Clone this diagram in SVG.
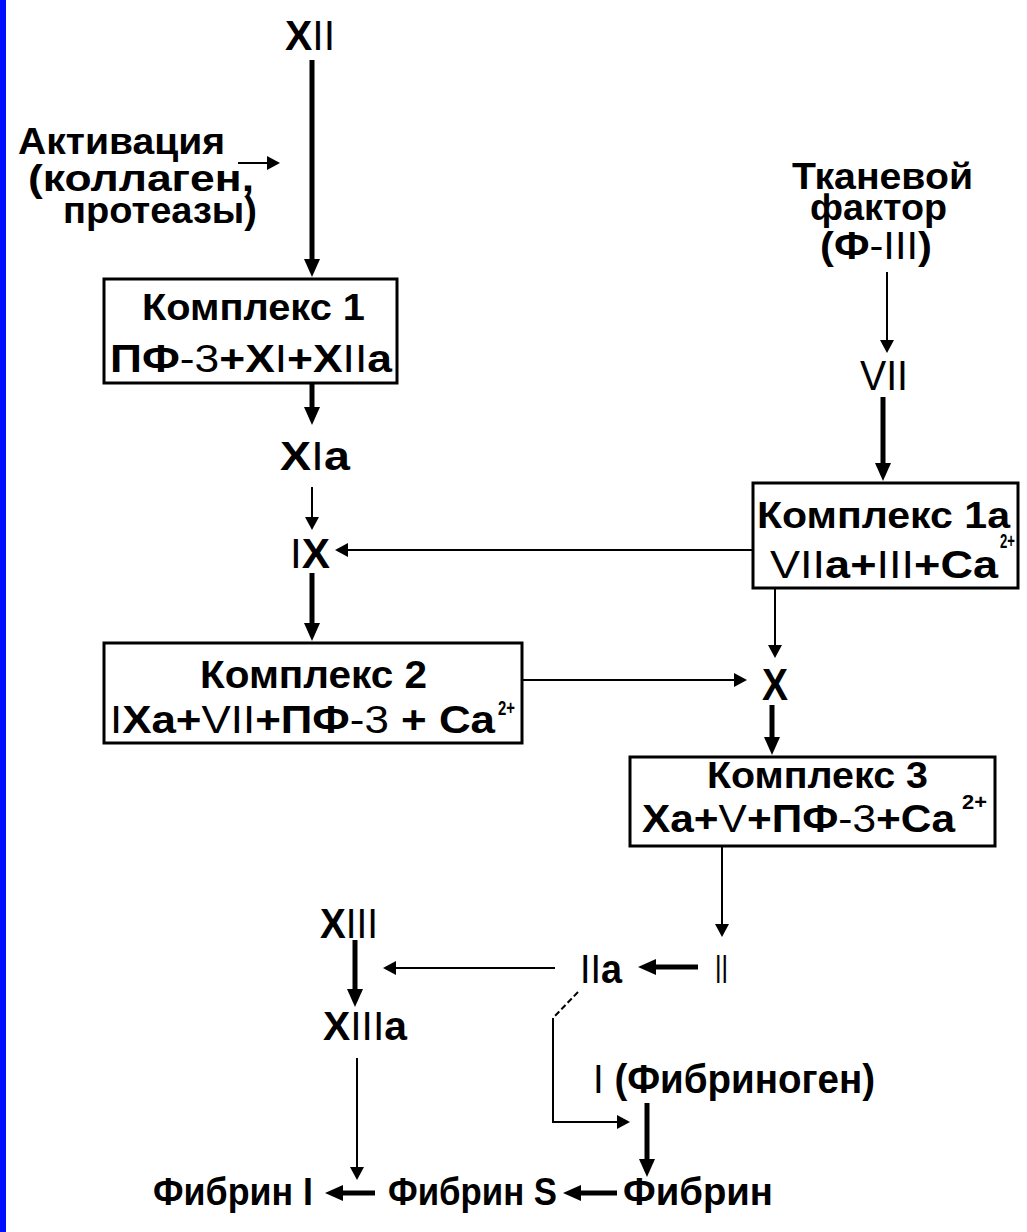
<svg xmlns="http://www.w3.org/2000/svg" width="1027" height="1232" viewBox="0 0 1027 1232">
<style>
.t{font-family:"Liberation Sans",Arial,sans-serif;font-weight:bold;fill:#000}
.n{font-weight:normal}
.box{fill:#fff;stroke:#000;stroke-width:3}
.thick{stroke:#000;stroke-width:5;fill:none;marker-end:url(#ab)}
.thin{stroke:#000;stroke-width:2;fill:none;marker-end:url(#at)}
.dash{stroke:#000;stroke-width:2;fill:none;stroke-dasharray:6 3}
</style>
<defs>
<marker id="ab" markerUnits="userSpaceOnUse" markerWidth="18" markerHeight="16" refX="8" refY="8" orient="auto" viewBox="0 0 18 16"><path d="M0,0 L18,8 L0,16 z" fill="#000"/></marker>
<marker id="at" markerUnits="userSpaceOnUse" markerWidth="13" markerHeight="14" refX="5" refY="7" orient="auto" viewBox="0 0 13 14"><path d="M0,0 L13,7 L0,14 z" fill="#000"/></marker>
</defs>
<rect x="0" y="0" width="1027" height="1232" fill="#fff"/>
<rect x="0" y="0" width="6" height="1232" fill="#0010ff"/>

<g id="connectors">
<line class="thick" x1="312" y1="60" x2="312" y2="267"/>
<line class="thick" x1="312" y1="383" x2="312" y2="415"/>
<line class="thick" x1="312" y1="573" x2="312" y2="631"/>
<line class="thick" x1="883" y1="397" x2="883" y2="471"/>
<line class="thick" x1="772" y1="705" x2="772" y2="745"/>
<line class="thick" x1="698" y1="967" x2="648" y2="967"/>
<line class="thick" x1="355" y1="940" x2="355" y2="997"/>
<line class="thick" x1="647" y1="1103" x2="647" y2="1167"/>
<line class="thick" x1="617" y1="1193" x2="573" y2="1193"/>
<line class="thick" x1="375" y1="1193" x2="335" y2="1193"/>
<line class="thin" x1="238" y1="163" x2="272" y2="163"/>
<line class="thin" x1="312" y1="487" x2="312" y2="522"/>
<line class="thin" x1="753" y1="550" x2="343" y2="550"/>
<line class="thin" x1="887" y1="272" x2="887" y2="345"/>
<line class="thin" x1="775" y1="588" x2="775" y2="650"/>
<line class="thin" x1="522" y1="680" x2="739" y2="680"/>
<line class="thin" x1="722" y1="846" x2="722" y2="929"/>
<line class="thin" x1="555" y1="968" x2="391" y2="968"/>
<line class="dash" x1="578" y1="992" x2="553" y2="1018"/>
<path class="thin" d="M553,1018 V1122 H622"/>
<line class="thin" x1="357" y1="1058" x2="357" y2="1172"/>
</g>

<g id="n-xii"><text class="t" x="285" y="50" font-size="42" textLength="50" lengthAdjust="spacingAndGlyphs">X<tspan class="n">II</tspan></text></g>

<g id="n-activation">
<text class="t" x="18" y="154" font-size="36" textLength="207" lengthAdjust="spacingAndGlyphs">Активация</text>
<text class="t" x="28" y="191" font-size="36" textLength="226" lengthAdjust="spacingAndGlyphs">(коллаген,</text>
<text class="t" x="63" y="223" font-size="36" textLength="194" lengthAdjust="spacingAndGlyphs">протеазы)</text>
</g>

<g id="n-complex1">
<rect class="box" x="104" y="279" width="293" height="104"/>
<text class="t" x="142" y="320" font-size="36" textLength="223" lengthAdjust="spacingAndGlyphs">Комплекс 1</text>
<text class="t" x="110" y="372" font-size="38" textLength="282" lengthAdjust="spacingAndGlyphs">ПФ<tspan class="n">-3</tspan>+X<tspan class="n">I</tspan>+X<tspan class="n">II</tspan>a</text>
</g>

<g id="n-xia"><text class="t" x="280" y="470" font-size="40" textLength="70" lengthAdjust="spacingAndGlyphs">X<tspan class="n">I</tspan>a</text></g>

<g id="n-ix"><text class="t" x="290" y="568" font-size="42" textLength="40" lengthAdjust="spacingAndGlyphs"><tspan class="n">I</tspan>X</text></g>

<g id="n-tissue-factor">
<text class="t" x="792" y="189" font-size="36" textLength="181" lengthAdjust="spacingAndGlyphs">Тканевой</text>
<text class="t" x="810" y="220" font-size="36" textLength="137" lengthAdjust="spacingAndGlyphs">фактор</text>
<text class="t" x="820" y="259" font-size="38" textLength="112" lengthAdjust="spacingAndGlyphs">(Ф<tspan class="n">-III</tspan>)</text>
</g>

<g id="n-vii"><text class="t n" x="860" y="390" font-size="42" textLength="48" lengthAdjust="spacingAndGlyphs">VII</text></g>

<g id="n-complex1a">
<rect class="box" x="753" y="483" width="265" height="105"/>
<text class="t" x="757" y="528" font-size="36" textLength="253" lengthAdjust="spacingAndGlyphs">Комплекс 1a</text>
<text class="t" x="770" y="578" font-size="38" textLength="228" lengthAdjust="spacingAndGlyphs"><tspan class="n">VII</tspan>a+<tspan class="n">III</tspan>+Ca</text>
<text class="t" x="1000" y="548" font-size="20" textLength="15" lengthAdjust="spacingAndGlyphs">2+</text>
</g>

<g id="n-complex2">
<rect class="box" x="104" y="643" width="418" height="100"/>
<text class="t" x="200" y="688" font-size="38" textLength="227" lengthAdjust="spacingAndGlyphs">Комплекс 2</text>
<text class="t" x="110" y="733" font-size="38" textLength="385" lengthAdjust="spacingAndGlyphs"><tspan class="n">I</tspan>Xa+<tspan class="n">VII</tspan>+ПФ<tspan class="n">-3</tspan> + Ca</text>
<text class="t" x="498" y="715" font-size="20" textLength="17" lengthAdjust="spacingAndGlyphs">2+</text>
</g>

<g id="n-x"><text class="t" x="762" y="700" font-size="44" textLength="26" lengthAdjust="spacingAndGlyphs">X</text></g>

<g id="n-complex3">
<rect class="box" x="630" y="757" width="365" height="89"/>
<text class="t" x="707" y="788" font-size="36" textLength="221" lengthAdjust="spacingAndGlyphs">Комплекс 3</text>
<text class="t" x="642" y="832" font-size="38" textLength="313" lengthAdjust="spacingAndGlyphs">Xa+<tspan class="n">V</tspan>+ПФ<tspan class="n">-3</tspan>+Ca</text>
<text class="t" x="962" y="809" font-size="20" textLength="25" lengthAdjust="spacingAndGlyphs">2+</text>
</g>

<g id="n-ii"><text class="t n" x="715" y="983" font-size="40" textLength="13" lengthAdjust="spacingAndGlyphs">II</text></g>

<g id="n-iia"><text class="t" x="580" y="983" font-size="40" textLength="42" lengthAdjust="spacingAndGlyphs"><tspan class="n">II</tspan>a</text></g>

<g id="n-xiii"><text class="t" x="320" y="938" font-size="42" textLength="58" lengthAdjust="spacingAndGlyphs">X<tspan class="n">III</tspan></text></g>

<g id="n-xiiia"><text class="t" x="323" y="1040" font-size="40" textLength="84" lengthAdjust="spacingAndGlyphs">X<tspan class="n">III</tspan>a</text></g>

<g id="n-fibrinogen"><text class="t" x="593" y="1093" font-size="40" textLength="282" lengthAdjust="spacingAndGlyphs"><tspan class="n">I</tspan> (Фибриноген)</text></g>

<g id="n-fibrin"><text class="t" x="623" y="1205" font-size="38" textLength="150" lengthAdjust="spacingAndGlyphs">Фибрин</text></g>

<g id="n-fibrin-s"><text class="t" x="388" y="1205" font-size="38" textLength="169" lengthAdjust="spacingAndGlyphs">Фибрин S</text></g>

<g id="n-fibrin-i"><text class="t" x="153" y="1205" font-size="38" textLength="160" lengthAdjust="spacingAndGlyphs">Фибрин I</text></g>
</svg>
